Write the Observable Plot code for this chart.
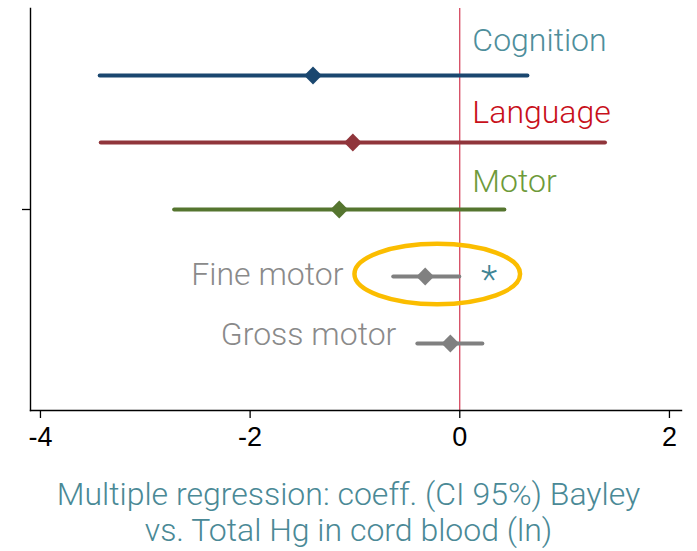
<!DOCTYPE html>
<html><head><meta charset="utf-8">
<script src="https://cdn.jsdelivr.net/npm/d3@7"></script>
<script src="https://cdn.jsdelivr.net/npm/@observablehq/plot@0.6"></script>
<style>
body{margin:0;background:#fff;}
#cap{font-family:Roboto,sans-serif;font-weight:300;font-size:32px;color:#4a8996;text-align:center;line-height:36px;width:697px;}
</style></head><body><div id="chart"></div><div id="cap">Multiple regression: coeff. (CI 95%) Bayley<br>vs. Total Hg in cord blood (ln)</div>
<script>
// Data
const outcomes = ["Cognition", "Language", "Motor", "Fine motor", "Gross motor"];
const rowPos   = [5, 4, 3, 2, 1];
const coef     = [-1.40, -1.02, -1.15, -0.33, -0.09];
const ciLow    = [-3.43, -3.42, -2.72, -0.63, -0.40];
const ciHigh   = [0.65, 1.39, 0.43, 0.00, 0.22];
const seriesColor = ["#1a476f", "#90353b", "#55752f", "#808080", "#808080"];
const labelColor  = ["#4e8e9b", "#c8101a", "#6e9a3a", "#8a8a8a", "#8a8a8a"];
const labelX   = [0.12, 0.12, 0.12, -1.11, -0.605];
const labelY   = [5.36, 4.29, 3.26, 1.88, 0.98];
const labelSide = ["right", "right", "right", "left", "left"];
const xTicks = [-4, -2, 0, 2];
const sigMark = [{x: 0.28, y: 1.76, t: "*"}];
const highlight = {cx: -0.21, cy: 2.03, rx: 0.79, ry: 0.45};

const rows = outcomes.map((o, i) => ({
  name: o, pos: rowPos[i], coef: coef[i], lo: ciLow[i], hi: ciHigh[i],
  color: seriesColor[i], lcolor: labelColor[i], lx: labelX[i], ly: labelY[i], side: labelSide[i]
}));

const ellipse = (index, scales) => {
  const sx = scales.x, sy = scales.y;
  const cx = sx(highlight.cx), cy = sy(highlight.cy);
  const rx = sx(highlight.cx + highlight.rx) - cx;
  const ry = sy(highlight.cy - highlight.ry) - cy;
  return d3.create("svg:ellipse")
    .attr("cx", cx).attr("cy", cy).attr("rx", rx).attr("ry", ry)
    .attr("fill", "none").attr("stroke", "#fbbd00").attr("stroke-width", 4.5)
    .node();
};

const labelOpts = {x: "lx", y: "ly", text: "name", fill: "lcolor", lineAnchor: "bottom", fontSize: 32, fontWeight: 300};

const chart = Plot.plot({
  width: 697, height: 476,
  marginLeft: 30, marginRight: 16, marginTop: 8, marginBottom: 66,
  x: {domain: [-4.095, 2.115]},
  y: {domain: [0, 6]},
  style: {fontFamily: "Roboto, sans-serif", background: "white", color: "black"},
  marks: [
    Plot.ruleX([0], {stroke: "#c8102e", strokeWidth: 1}),
    Plot.axisX({ticks: xTicks, tickFormat: d => String(d), tickSize: 8, tickPadding: 8, fontSize: 27, fontFamily: "Liberation Sans", label: null, strokeWidth: 1.3}),
    Plot.axisY({ticks: [3], tickSize: 8, tickFormat: () => "", label: null, strokeWidth: 1.3}),
    Plot.frame({anchor: "left", strokeWidth: 1.4}),
    Plot.frame({anchor: "bottom", strokeWidth: 1.4}),
    Plot.ruleY(rows, {y: "pos", x1: "lo", x2: "hi", stroke: "color", strokeWidth: 4, strokeLinecap: "round"}),
    Plot.dot(rows, {x: "coef", y: "pos", symbol: "diamond2", r: 8, fill: "color", stroke: null}),
    Plot.text(rows.filter(d => d.side === "right"), {...labelOpts, textAnchor: "start"}),
    Plot.text(rows.filter(d => d.side === "left"), {...labelOpts, textAnchor: "end"}),
    ellipse,
    Plot.text(sigMark, {x: "x", y: "y", text: "t", fill: "#3f8595", fontSize: 38, fontWeight: 300, lineAnchor: "bottom"})
  ]
});
document.getElementById("chart").appendChild(chart);
</script></body></html>
